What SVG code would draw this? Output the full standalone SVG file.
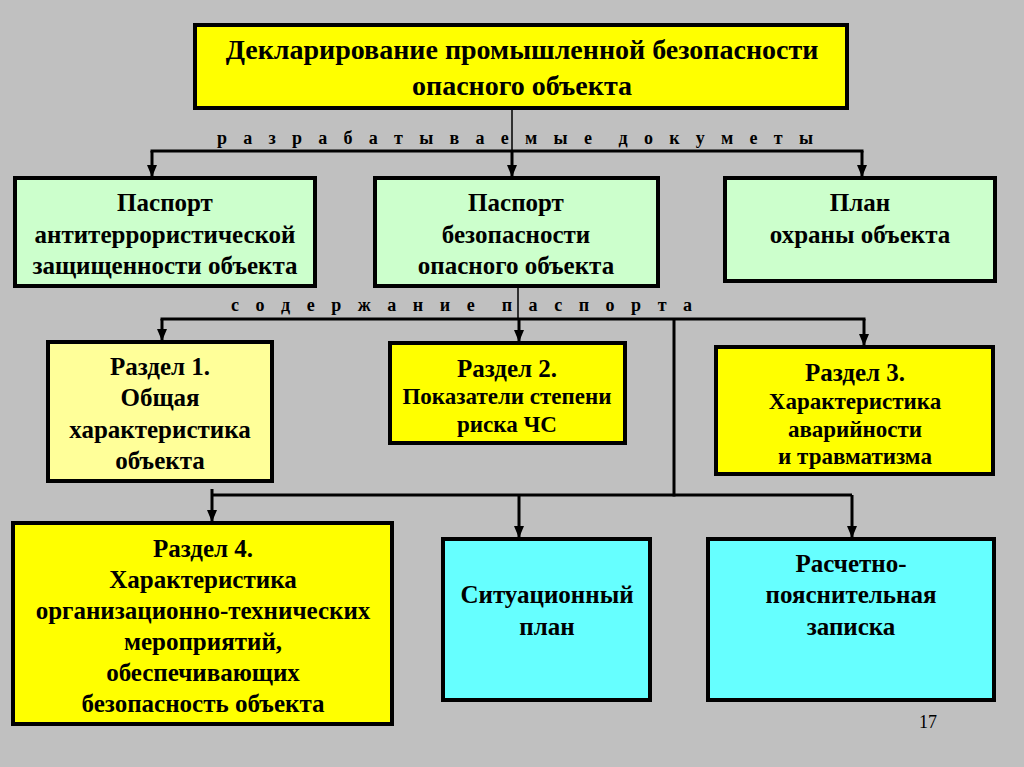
<svg xmlns="http://www.w3.org/2000/svg" width="1024" height="767" viewBox="0 0 1024 767">
<defs>
<marker id="ah" markerWidth="12" markerHeight="10" refX="12" refY="5" orient="auto" markerUnits="userSpaceOnUse" viewBox="0 0 12 10">
<path d="M0,0 L12,5 L0,10 Z" fill="#000"/>
</marker>
<style>
.box{stroke:#000;stroke-width:4}
.y{fill:#FFFF00}
.ly{fill:#FFFF99}
.g{fill:#CCFFCC}
.c{fill:#66FFFF}
.t{font-family:"Liberation Serif","Times New Roman",serif;font-weight:bold;font-size:25px;fill:#000;text-anchor:middle}
.s{font-size:23px}
.big{font-size:28px}
.sp{font-family:"Liberation Serif","Times New Roman",serif;font-weight:bold;font-size:18px;fill:#000;white-space:pre}
.ln{stroke:#000;stroke-width:3;fill:none}
.thin{stroke:#000;stroke-width:1.5;fill:none}
</style>
</defs>
<rect width="1024" height="767" fill="#C0C0C0"/>

<g id="connectors">
<line class="thin" x1="512" y1="108" x2="512" y2="151"/>
<line class="ln" x1="150.5" y1="151" x2="863.5" y2="151"/>
<line class="ln" x1="152" y1="151" x2="152" y2="177" marker-end="url(#ah)"/>
<line class="ln" x1="512" y1="151" x2="512" y2="177" marker-end="url(#ah)"/>
<line class="ln" x1="862" y1="151" x2="862" y2="177" marker-end="url(#ah)"/>
<line class="thin" x1="518" y1="286" x2="518" y2="319"/>
<line class="ln" x1="160.5" y1="319" x2="865.5" y2="319"/>
<line class="ln" x1="162" y1="319" x2="162" y2="341" marker-end="url(#ah)"/>
<line class="ln" x1="519" y1="319" x2="519" y2="342" marker-end="url(#ah)"/>
<line class="ln" x1="864" y1="319" x2="864" y2="346" marker-end="url(#ah)"/>
<line class="ln" x1="674" y1="319" x2="674" y2="496.5"/>
<line class="ln" x1="212" y1="495" x2="852" y2="495"/>
<line class="ln" x1="212" y1="489" x2="212" y2="522" marker-end="url(#ah)"/>
<line class="ln" x1="519" y1="495" x2="519" y2="538" marker-end="url(#ah)"/>
<line class="ln" x1="852" y1="495" x2="852" y2="538" marker-end="url(#ah)"/>
<text class="sp" xml:space="preserve" x="217" y="144" textLength="596" lengthAdjust="spacing">р а з р а б а т ы в а е м ы е  д о к у м е т ы</text>
<text class="sp" xml:space="preserve" x="231" y="311" textLength="461" lengthAdjust="spacing">с о д е р ж а н и е  п а с п о р т а</text>
</g>

<g id="top">
<rect class="box y" x="195" y="25" width="652" height="83"/>
<text class="t big" x="522" y="59">Декларирование промышленной безопасности</text>
<text class="t big" x="522" y="95">опасного объекта</text>
</g>

<g id="passport-anti">
<rect class="box g" x="15" y="178" width="300" height="108"/>
<text class="t" x="165" y="211">Паспорт</text>
<text class="t" x="165" y="243">антитеррористической</text>
<text class="t" x="165" y="274">защищенности объекта</text>
</g>

<g id="passport-safety">
<rect class="box g" x="375" y="178" width="283" height="108"/>
<text class="t" x="516" y="211">Паспорт</text>
<text class="t" x="516" y="243">безопасности</text>
<text class="t" x="516" y="274">опасного объекта</text>
</g>

<g id="plan-guard">
<rect class="box g" x="725" y="178" width="270" height="103"/>
<text class="t" x="860" y="211">План</text>
<text class="t" x="860" y="243">охраны объекта</text>
</g>

<g id="section1">
<rect class="box ly" x="48" y="342" width="224" height="139"/>
<text class="t" x="160" y="375">Раздел 1.</text>
<text class="t" x="160" y="406">Общая</text>
<text class="t" x="160" y="438">характеристика</text>
<text class="t" x="160" y="469">объекта</text>
</g>

<g id="section2">
<rect class="box y" x="390" y="343" width="235" height="100"/>
<text class="t" x="507" y="377">Раздел 2.</text>
<text class="t s" x="507" y="404">Показатели степени</text>
<text class="t s" x="507" y="432">риска ЧС</text>
</g>

<g id="section3">
<rect class="box y" x="716" y="347" width="277" height="127"/>
<text class="t" x="855" y="381">Раздел 3.</text>
<text class="t s" x="855" y="409">Характеристика</text>
<text class="t s" x="855" y="437">аварийности</text>
<text class="t s" x="855" y="464">и травматизма</text>
</g>

<g id="section4">
<rect class="box y" x="13" y="523" width="379" height="201"/>
<text class="t" x="203" y="557">Раздел 4.</text>
<text class="t" x="203" y="588">Характеристика</text>
<text class="t" x="203" y="619">организационно-технических</text>
<text class="t" x="203" y="650">мероприятий,</text>
<text class="t" x="203" y="681">обеспечивающих</text>
<text class="t" x="203" y="712">безопасность объекта</text>
</g>

<g id="situation-plan">
<rect class="box c" x="443" y="539" width="207" height="161"/>
<text class="t" x="547" y="603">Ситуационный</text>
<text class="t" x="547" y="635">план</text>
</g>

<g id="calc-note">
<rect class="box c" x="708" y="539" width="286" height="161"/>
<text class="t" x="851" y="572">Расчетно-</text>
<text class="t" x="851" y="603">пояснительная</text>
<text class="t" x="851" y="635">записка</text>
</g>

<text x="928" y="728" style="font-family:'Liberation Serif','Times New Roman',serif;font-size:18px;fill:#000" text-anchor="middle">17</text>
</svg>
